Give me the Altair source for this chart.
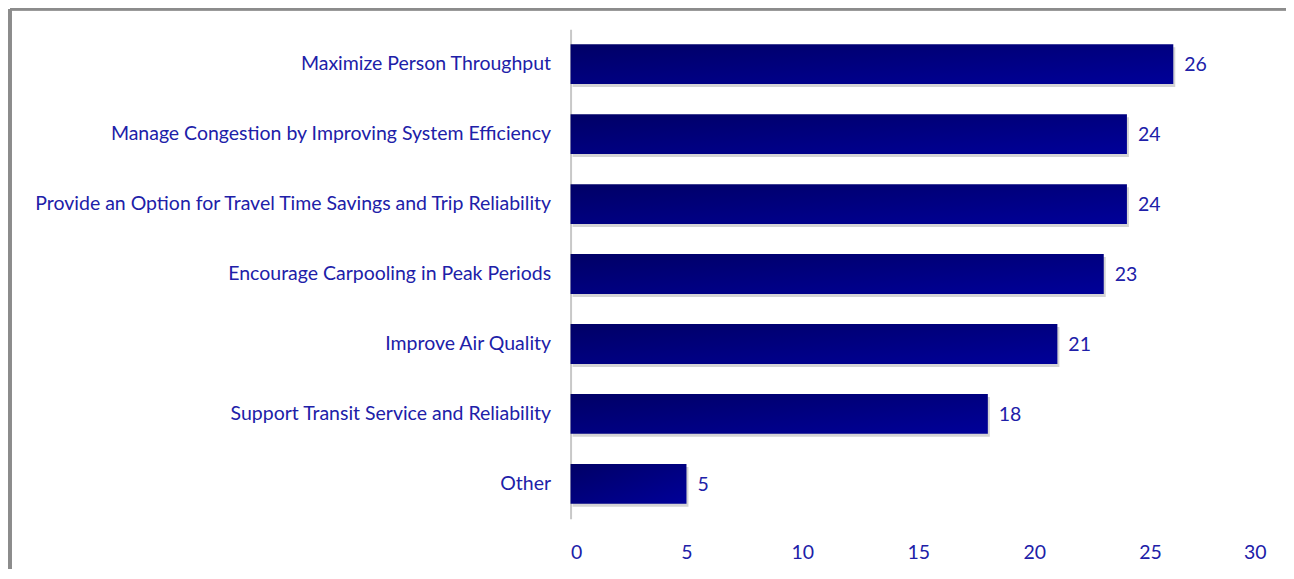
import altair as alt
import pandas as pd

categories = [
    "Maximize Person Throughput",
    "Manage Congestion by Improving System Efficiency",
    "Provide an Option for Travel Time Savings and Trip Reliability",
    "Encourage Carpooling in Peak Periods",
    "Improve Air Quality",
    "Support Transit Service and Reliability",
    "Other",
]
values = [26, 24, 24, 23, 21, 18, 5]
x_ticks = [0, 5, 10, 15, 20, 25, 30]

df = pd.DataFrame({"goal": categories, "count": values})

TEXT = "#2020a8"
FONT = "Lato"
FS = 19.5

x_enc = alt.X("count:Q", scale=alt.Scale(domain=[0, 30], nice=False),
              axis=alt.Axis(values=x_ticks, title=None, grid=False, domain=False, ticks=False,
                            labelPadding=25, labelFont=FONT, labelFontSize=FS, labelColor=TEXT))
y_enc = alt.Y("goal:N", sort=categories,
              scale=alt.Scale(paddingInner=0.43, paddingOuter=0.215),
              axis=alt.Axis(title=None, ticks=False, domain=True, domainColor="#c8c8c8", domainWidth=2,
                            labelPadding=20, labelFont=FONT, labelFontSize=FS, labelColor=TEXT,
                            labelLimit=600))

base = alt.Chart(df)

shadow = base.mark_bar(color="#b0b0b0", opacity=0.55).encode(
    x=alt.X("count:Q", scale=alt.Scale(domain=[0, 30], nice=False)),
    y=alt.Y("goal:N", sort=categories, scale=alt.Scale(paddingInner=0.43, paddingOuter=0.215)),
    yOffset=alt.value(3), xOffset=alt.value(2),
)

bars = base.mark_bar(
    color=alt.Gradient(
        gradient="linear",
        stops=[alt.GradientStop(color="#000066", offset=0),
               alt.GradientStop(color="#000099", offset=1)],
        x1=0, x2=1, y1=0, y2=1,
    )
).encode(x=x_enc, y=y_enc)

labels = base.mark_text(align="left", baseline="middle", dx=11, dy=1, font=FONT, fontSize=FS, color=TEXT).encode(
    x="count:Q", y=alt.Y("goal:N", sort=categories), text="count:Q"
)

frame_top = alt.Chart(df).mark_rule(color="#8c8c8c", strokeWidth=2).encode(
    x=alt.value(-561), x2=alt.value(745), y=alt.value(-20)
)
frame_left = alt.Chart(df).mark_rule(color="#8c8c8c", strokeWidth=3).encode(
    x=alt.value(-561), y=alt.value(-20), y2=alt.value(560)
)

chart = alt.layer(shadow, bars, labels, frame_top, frame_left).properties(
    width=696, height=490,
    autosize=alt.AutoSizeParams(type="none"),
    padding={"left": 563, "top": 21, "right": 20, "bottom": 50},
).configure_view(stroke=None)

chart.save("out.html", embed_options={"renderer": "svg", "actions": False})
